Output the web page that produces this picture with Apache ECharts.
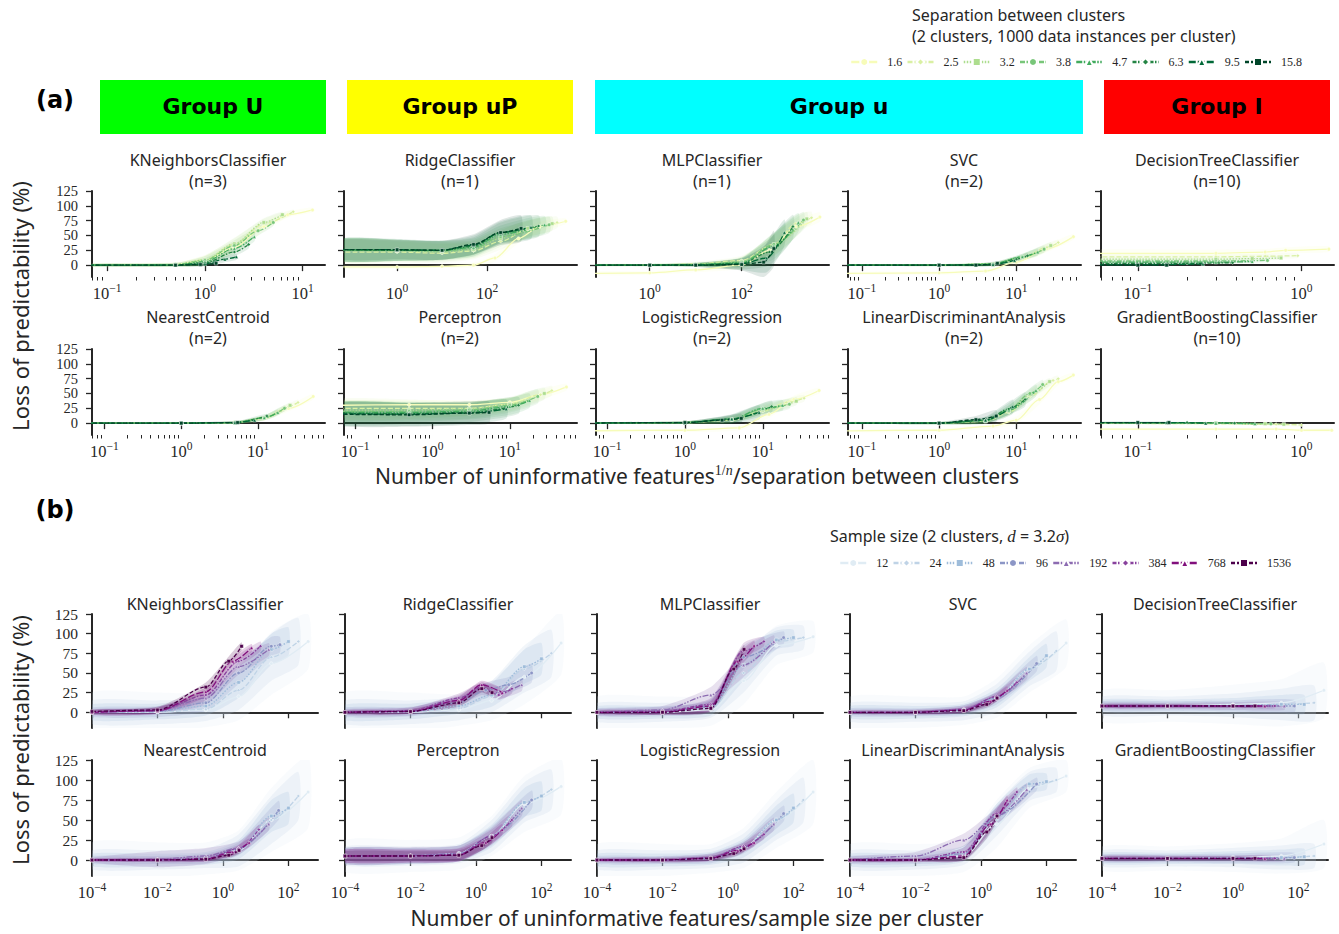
<!doctype html>
<html>
<head>
    <meta charset="utf-8">
    <title>Loss of predictability</title>
    <style type="text/css">
        body, html { width: 100%; height: 100%; margin: 0; padding: 0; background: #fff; }
        #container { width: 1339px; height: 934px; }
    </style>
    <script src="https://cdn.jsdelivr.net/npm/echarts@6/dist/echarts.min.js"></script>
</head>
<body>
<div id="container"></div>
<script type="text/javascript">
    // ---------- legend labels / colours ----------
    const sepLabels = ['1.6', '2.5', '3.2', '3.8', '4.7', '6.3', '9.5', '15.8'];
    const sepColors = ['#f7fcb9', '#d9f0a3', '#addd8e', '#78c679', '#41ab5d', '#238443', '#006837', '#004529'];
    const sizeLabels = ['12', '24', '48', '96', '192', '384', '768', '1536'];
    const sizeColors = ['#e0ecf4', '#bfd3e6', '#9ebcda', '#8c96c6', '#8c6bb1', '#88419d', '#810f7c', '#4d004b'];
    const yTicks = [0, 25, 50, 75, 100, 125];

    // ---------- (a) separation between clusters: [x, y, spread] per point ----------
    const kneighborsSep = [
        [[0.05, 0, 3], [0.5, 1, 4], [1, 8, 8], [2, 30, 10], [4, 65, 8], [7, 85, 5], [12.6, 93, 4]],
        [[0.05, 0, 2], [0.5, 1, 3], [1, 9, 8], [2, 35, 10], [4, 70, 8], [8, 90, 4]],
        [[0.05, 0, 2], [0.5, 1, 3], [1, 9, 7], [2, 36, 10], [4, 72, 7], [6.2, 85, 5]],
        [[0.05, 0, 2], [0.5, 1, 3], [1, 8, 7], [2, 33, 9], [3.5, 58, 8], [5, 72, 6]],
        [[0.05, 0, 2], [0.5, 0, 3], [1, 6, 6], [2, 28, 8], [3.2, 48, 8]],
        [[0.05, 0, 2], [0.5, 0, 2], [1, 4, 5], [2, 22, 7], [2.8, 35, 7]],
        [[0.05, 0, 1], [0.5, 0, 2], [1, 2, 4], [1.6, 10, 5], [2.1, 14, 5]],
        [[0.05, 0, 1], [0.5, 0, 1], [0.9, 1, 2], [1.3, 3, 3]]
    ];
    const ridgeSep = [
        [[0.05, -3, 3], [1, -3, 3], [10, -2, 3], [50, 0, 4], [150, 12, 6], [500, 45, 8], [1500, 65, 8], [5600, 74, 5]],
        [[0.05, 22, 18], [1, 22, 18], [10, 20, 16], [50, 24, 14], [200, 40, 14], [800, 60, 14], [3600, 72, 10]],
        [[0.05, 25, 18], [1, 24, 18], [10, 22, 16], [50, 26, 14], [200, 45, 14], [800, 62, 14], [2800, 70, 12]],
        [[0.05, 25, 18], [1, 25, 18], [10, 24, 16], [50, 28, 14], [200, 48, 14], [2400, 68, 14]],
        [[0.05, 26, 18], [1, 25, 18], [10, 25, 16], [50, 30, 15], [200, 52, 15], [1900, 68, 15]],
        [[0.05, 26, 18], [1, 25, 18], [10, 25, 16], [50, 32, 15], [200, 55, 17], [1400, 66, 18]],
        [[0.05, 26, 18], [1, 26, 18], [10, 25, 16], [50, 34, 16], [200, 55, 19], [950, 64, 20]],
        [[0.05, 26, 16], [1, 26, 16], [10, 25, 16], [50, 35, 17], [200, 55, 21], [570, 62, 22]]
    ];
    const mlpSep = [
        [[0.05, -14, 3], [1, -13, 3], [10, -8, 4], [100, 0, 6], [400, 25, 10], [1500, 65, 10], [5000, 81, 8]],
        [[0.05, 0, 2], [1, 0, 2], [10, 2, 4], [100, 8, 8], [500, 35, 15], [1500, 70, 14], [3300, 80, 10]],
        [[0.05, 0, 2], [1, 0, 2], [10, 1, 3], [100, 6, 8], [500, 35, 18], [2600, 78, 12]],
        [[0.05, 0, 1], [1, 0, 2], [10, 1, 3], [100, 5, 8], [500, 35, 20], [2200, 76, 14]],
        [[0.05, 0, 1], [1, 0, 2], [10, 1, 3], [100, 4, 8], [500, 32, 22], [1700, 72, 16]],
        [[0.05, 0, 1], [1, 0, 1], [10, 1, 3], [100, 3, 10], [400, 22, 22], [1300, 65, 20]],
        [[0.05, 0, 1], [1, 0, 1], [10, 0, 3], [100, 2, 10], [350, 12, 24], [850, 55, 22]],
        [[0.05, 0, 1], [1, 0, 1], [10, 0, 3], [100, 1, 10], [300, 5, 25], [500, 28, 30]]
    ];
    const svcSep = [
        [[0.05, -14, 2], [1, -13, 3], [4, -10, 4], [10, 5, 6], [25, 28, 6], [55, 48, 5]],
        [[0.05, 0, 1], [1, 0, 2], [5, 2, 3], [12, 12, 5], [25, 30, 6], [35, 38, 5]],
        [[0.05, 0, 1], [1, 0, 2], [5, 2, 3], [12, 13, 5], [28, 33, 6]],
        [[0.05, 0, 1], [1, 0, 2], [5, 2, 3], [12, 14, 5], [23, 27, 6]],
        [[0.05, 0, 1], [1, 0, 2], [5, 2, 3], [12, 14, 5], [19, 22, 6]],
        [[0.05, 0, 1], [1, 0, 1], [5, 1, 3], [10, 10, 4], [14, 16, 5]],
        [[0.05, 0, 1], [1, 0, 1], [5, 1, 2], [9.5, 8, 4]],
        [[0.05, 0, 1], [1, 0, 1], [3, 0, 2], [5.7, 3, 3]]
    ];
    const treeSep = [
        [[0.05, 20, 6], [0.3, 20, 6], [0.6, 22, 5], [0.8, 25, 5], [1.47, 27, 5]],
        [[0.05, 14, 4], [0.3, 14, 4], [0.6, 15, 4], [0.95, 16, 4]],
        [[0.05, 10, 3], [0.3, 10, 3], [0.5, 11, 3], [0.75, 12, 3]],
        [[0.05, 7, 3], [0.3, 7, 3], [0.62, 8, 3]],
        [[0.05, 5, 2], [0.3, 5, 2], [0.5, 6, 2]],
        [[0.05, 3, 2], [0.2, 3, 2], [0.38, 4, 2]],
        [[0.05, 1, 2], [0.15, 1, 2], [0.25, 2, 2]],
        [[0.05, 0, 1], [0.1, 0, 1], [0.15, 0, 1]]
    ];
    const centroidSep = [
        [[0.05, 0, 1], [1, 0, 1], [5, 1, 2], [12, 8, 4], [25, 25, 5], [52, 45, 5]],
        [[0.05, 0, 1], [1, 0, 1], [5, 1, 2], [12, 9, 4], [25, 28, 5], [33, 35, 5]],
        [[0.05, 0, 1], [1, 0, 1], [5, 1, 2], [12, 9, 4], [26, 30, 5]],
        [[0.05, 0, 1], [1, 0, 1], [5, 1, 2], [12, 9, 4], [22, 25, 5]],
        [[0.05, 0, 1], [1, 0, 1], [5, 1, 2], [12, 9, 4], [18, 18, 5]],
        [[0.05, 0, 1], [1, 0, 1], [5, 1, 2], [13, 12, 4]],
        [[0.05, 0, 1], [1, 0, 1], [5, 1, 2], [9, 5, 3]],
        [[0.05, 0, 1], [1, 0, 1], [5.4, 1, 2]]
    ];
    const perceptronSep = [
        [[0.05, 30, 8], [0.5, 31, 8], [3, 31, 8], [10, 35, 8], [25, 48, 8], [54, 61, 6]],
        [[0.05, 25, 15], [0.5, 25, 15], [3, 25, 12], [10, 32, 10], [25, 48, 10], [35, 55, 8]],
        [[0.05, 22, 15], [0.5, 22, 15], [3, 24, 12], [10, 32, 12], [28, 50, 10]],
        [[0.05, 20, 15], [0.5, 20, 15], [3, 22, 14], [10, 30, 12], [23, 45, 12]],
        [[0.05, 18, 16], [0.5, 18, 16], [3, 20, 14], [10, 28, 14], [18, 38, 12]],
        [[0.05, 17, 18], [0.5, 16, 18], [3, 18, 16], [13, 30, 14]],
        [[0.05, 16, 18], [0.5, 15, 20], [3, 17, 18], [9, 24, 16]],
        [[0.05, 15, 18], [0.5, 14, 20], [3, 17, 20], [5.4, 18, 18]]
    ];
    const logisticSep = [
        [[0.05, -13, 2], [1, -12, 3], [5, -8, 4], [12, 15, 6], [25, 40, 6], [53, 55, 5]],
        [[0.05, 0, 1], [1, 1, 2], [4, 5, 4], [10, 20, 6], [20, 35, 6], [34, 42, 6]],
        [[0.05, 0, 1], [1, 1, 2], [4, 6, 5], [10, 22, 7], [27, 37, 7]],
        [[0.05, 0, 1], [1, 1, 2], [4, 6, 6], [10, 24, 8], [22, 32, 8]],
        [[0.05, 0, 1], [1, 1, 2], [4, 7, 6], [10, 25, 9], [18, 30, 9]],
        [[0.05, 0, 1], [1, 1, 2], [4, 7, 7], [13, 28, 10]],
        [[0.05, 0, 1], [1, 1, 2], [4, 7, 8], [9, 18, 12]],
        [[0.05, 0, 1], [1, 1, 2], [3, 5, 6], [5.3, 8, 8]]
    ];
    const ldaSep = [
        [[0.05, -13, 2], [1, -12, 3], [5, -5, 4], [10, 5, 6], [20, 40, 8], [35, 70, 6], [55, 81, 5]],
        [[0.05, 0, 1], [1, 0, 2], [4, 3, 3], [8, 18, 6], [15, 45, 8], [30, 72, 6], [35, 75, 5]],
        [[0.05, 0, 1], [1, 0, 2], [4, 3, 3], [8, 20, 6], [15, 48, 8], [27, 70, 6]],
        [[0.05, 0, 1], [1, 0, 2], [4, 4, 4], [8, 22, 7], [15, 50, 9], [22, 65, 8]],
        [[0.05, 0, 1], [1, 0, 2], [4, 4, 4], [8, 22, 8], [18, 55, 10]],
        [[0.05, 0, 1], [1, 0, 2], [4, 5, 5], [8, 24, 10], [13, 40, 12]],
        [[0.05, 0, 1], [1, 0, 2], [4, 5, 6], [9, 28, 12]],
        [[0.05, 0, 1], [1, 0, 2], [3, 6, 6], [5.5, 12, 10]]
    ];
    const boostingSep = [
        [[0.05, -10, 2], [0.3, -10, 2], [0.7, -10, 2], [1, -12, 3], [1.53, -12, 3]],
        [[0.05, 0, 2], [0.3, -1, 2], [0.7, -2, 2], [1, -3, 3]],
        [[0.05, 0, 1], [0.3, 0, 2], [0.6, -1, 2], [0.78, -2, 2]],
        [[0.05, 1, 1], [0.3, 0, 1], [0.65, -1, 2]],
        [[0.05, 1, 1], [0.3, 0, 1], [0.52, -1, 2]],
        [[0.05, 1, 1], [0.2, 1, 1], [0.39, 0, 1]],
        [[0.05, 1, 1], [0.15, 1, 1], [0.26, 0, 1]],
        [[0.05, 1, 1], [0.1, 1, 1], [0.155, 1, 1]]
    ];

    // ---------- (b) sample size: [x, y, spread] per point ----------
    const kneighborsSize = [
        [[1e-4, 0, 25], [0.01, 0, 25], [0.3, 3, 22], [3, 20, 30], [30, 62, 40], [400, 90, 35]],
        [[1e-4, 0, 15], [0.01, 0, 15], [0.3, 4, 15], [3, 28, 25], [30, 70, 30], [200, 90, 30]],
        [[1e-4, 0, 10], [0.01, 1, 10], [0.3, 8, 12], [3, 38, 20], [30, 80, 20], [100, 90, 18]],
        [[1e-4, 0, 6], [0.01, 1, 7], [0.3, 12, 10], [3, 50, 14], [30, 84, 12], [55, 86, 10]],
        [[1e-4, 0, 4], [0.01, 2, 5], [0.3, 18, 8], [3, 58, 10], [25, 80, 8]],
        [[1e-4, 0, 3], [0.01, 2, 4], [0.3, 22, 7], [3, 65, 8], [14, 84, 6]],
        [[1e-4, 0, 3], [0.01, 2, 4], [0.3, 26, 6], [2, 65, 6], [7.5, 82, 5]],
        [[1e-4, 1, 2], [0.01, 3, 4], [0.3, 32, 6], [1.5, 65, 6], [3.7, 84, 5]]
    ];
    const ridgeSize = [
        [[1e-4, 0, 25], [0.01, 0, 25], [0.3, 3, 20], [3, 15, 25], [30, 45, 35], [400, 88, 40]],
        [[1e-4, 0, 15], [0.01, 0, 15], [0.3, 5, 15], [3, 20, 20], [30, 55, 30], [200, 75, 30]],
        [[1e-4, 0, 10], [0.01, 1, 10], [0.3, 8, 10], [3, 22, 15], [30, 58, 22], [100, 68, 20]],
        [[1e-4, 0, 6], [0.01, 1, 6], [0.3, 12, 8], [2, 28, 10], [10, 35, 10], [50, 50, 12]],
        [[1e-4, 0, 4], [0.01, 1, 5], [0.3, 15, 7], [1.5, 30, 8], [5, 25, 8], [25, 35, 8]],
        [[1e-4, 0, 3], [0.01, 2, 4], [0.3, 18, 6], [1.5, 32, 6], [5, 22, 6], [12.5, 30, 6]],
        [[1e-4, 0, 2], [0.01, 1, 3], [0.3, 15, 5], [1.5, 35, 5], [6.3, 25, 5]],
        [[1e-4, 0, 2], [0.01, 1, 3], [0.3, 12, 5], [1.5, 30, 5], [3.1, 25, 5]]
    ];
    const mlpSize = [
        [[1e-4, 0, 20], [0.01, 0, 20], [0.3, 3, 20], [3, 40, 30], [30, 85, 25], [400, 96, 20]],
        [[1e-4, 0, 12], [0.01, 0, 12], [0.3, 5, 12], [3, 50, 25], [30, 90, 18], [200, 95, 15]],
        [[1e-4, 0, 8], [0.01, 0, 8], [0.3, 6, 10], [3, 60, 20], [30, 92, 12], [100, 95, 10]],
        [[1e-4, 0, 5], [0.01, 1, 6], [0.3, 8, 8], [3, 70, 15], [50, 95, 8]],
        [[1e-4, 0, 4], [0.01, 3, 5], [0.3, 22, 10], [3, 60, 15], [25, 90, 8]],
        [[1e-4, 0, 3], [0.01, 1, 4], [0.3, 10, 8], [3, 78, 10], [12.5, 90, 6]],
        [[1e-4, 0, 2], [0.01, 0, 3], [0.3, 8, 6], [2, 65, 10], [6.3, 85, 6]],
        [[1e-4, 0, 2], [0.01, 0, 3], [0.3, 5, 5], [1.5, 55, 10], [3.1, 80, 6]]
    ];
    const svcSize = [
        [[1e-4, 0, 20], [0.01, 0, 20], [0.3, 2, 18], [3, 18, 25], [30, 55, 30], [400, 88, 30]],
        [[1e-4, 0, 12], [0.01, 0, 12], [0.3, 2, 12], [3, 18, 18], [30, 55, 22], [200, 78, 25]],
        [[1e-4, 0, 8], [0.01, 0, 8], [0.3, 3, 8], [3, 18, 12], [30, 55, 15], [100, 72, 15]],
        [[1e-4, 0, 5], [0.01, 0, 5], [0.3, 3, 6], [3, 18, 8], [50, 62, 10]],
        [[1e-4, 0, 3], [0.01, 0, 4], [0.3, 4, 5], [3, 20, 6], [25, 50, 8]],
        [[1e-4, 0, 2], [0.01, 0, 3], [0.3, 3, 4], [3, 20, 5], [12.5, 38, 6]],
        [[1e-4, 0, 2], [0.01, 0, 2], [0.3, 3, 3], [2, 14, 4], [6.3, 28, 5]],
        [[1e-4, 0, 1], [0.01, 0, 2], [0.3, 2, 3], [1.5, 10, 4], [3.1, 18, 4]]
    ];
    const treeSize = [
        [[1e-4, 8, 20], [0.01, 8, 20], [1, 10, 25], [30, 12, 30], [600, 28, 35]],
        [[1e-4, 8, 12], [0.01, 8, 12], [1, 9, 15], [30, 10, 20], [300, 12, 22]],
        [[1e-4, 8, 8], [0.01, 8, 8], [1, 8, 10], [30, 10, 12], [150, 10, 12]],
        [[1e-4, 8, 6], [0.01, 8, 6], [1, 8, 7], [75, 8, 8]],
        [[1e-4, 8, 4], [0.01, 8, 4], [1, 8, 5], [37, 8, 5]],
        [[1e-4, 8, 3], [0.01, 8, 3], [1, 8, 3], [19, 8, 3]],
        [[1e-4, 8, 2], [0.01, 8, 2], [1, 8, 2], [9.4, 8, 2]],
        [[1e-4, 8, 2], [0.01, 8, 2], [1, 8, 2], [4.7, 8, 2]]
    ];
    const centroidSize = [
        [[1e-4, 0, 22], [0.01, 0, 22], [0.3, 2, 20], [3, 12, 25], [30, 50, 40], [400, 85, 45]],
        [[1e-4, 0, 12], [0.01, 0, 12], [0.3, 2, 12], [3, 12, 20], [30, 50, 30], [200, 80, 30]],
        [[1e-4, 0, 8], [0.01, 0, 8], [0.3, 2, 8], [3, 13, 12], [30, 55, 20], [100, 65, 20]],
        [[1e-4, 0, 5], [0.01, 0, 5], [0.3, 2, 6], [3, 14, 8], [50, 62, 12]],
        [[1e-4, 0, 3], [0.01, 1, 10], [0.3, 5, 10], [3, 15, 8], [25, 45, 8]],
        [[1e-4, 0, 2], [0.01, 0, 3], [0.3, 2, 4], [3, 14, 5], [12.5, 38, 6]],
        [[1e-4, 0, 2], [0.01, 0, 2], [0.3, 1, 3], [2, 10, 4], [6.3, 22, 5]],
        [[1e-4, 0, 1], [0.01, 0, 2], [0.3, 1, 2], [1.5, 6, 3], [3.1, 12, 4]]
    ];
    const perceptronSize = [
        [[1e-4, 5, 20], [0.01, 5, 20], [0.3, 8, 20], [3, 30, 25], [30, 70, 35], [400, 92, 35]],
        [[1e-4, 5, 12], [0.01, 5, 12], [0.3, 8, 12], [3, 30, 20], [30, 72, 25], [200, 88, 25]],
        [[1e-4, 5, 10], [0.01, 5, 10], [0.3, 8, 10], [3, 30, 14], [30, 72, 18], [100, 80, 18]],
        [[1e-4, 5, 10], [0.01, 5, 10], [0.3, 8, 10], [3, 30, 12], [50, 75, 12]],
        [[1e-4, 5, 10], [0.01, 6, 10], [0.3, 8, 10], [3, 30, 10], [25, 65, 10]],
        [[1e-4, 5, 8], [0.01, 5, 8], [0.3, 7, 8], [3, 30, 8], [12.5, 50, 8]],
        [[1e-4, 5, 8], [0.01, 5, 8], [0.3, 6, 8], [2, 22, 7], [6.3, 38, 7]],
        [[1e-4, 5, 6], [0.01, 5, 6], [0.3, 6, 6], [1.5, 18, 6], [3.1, 28, 6]]
    ];
    const logisticSize = [
        [[1e-4, 0, 20], [0.01, 0, 20], [0.3, 2, 18], [3, 15, 25], [30, 50, 35], [400, 85, 40]],
        [[1e-4, 0, 12], [0.01, 0, 12], [0.3, 2, 12], [3, 15, 18], [30, 50, 25], [200, 75, 28]],
        [[1e-4, 0, 8], [0.01, 0, 8], [0.3, 2, 8], [3, 15, 12], [30, 50, 18], [100, 65, 18]],
        [[1e-4, 0, 5], [0.01, 0, 5], [0.3, 2, 6], [3, 16, 8], [50, 58, 10]],
        [[1e-4, 0, 3], [0.01, 0, 4], [0.3, 3, 5], [3, 16, 6], [25, 45, 8]],
        [[1e-4, 0, 2], [0.01, 0, 3], [0.3, 3, 4], [3, 17, 5], [12.5, 32, 6]],
        [[1e-4, 0, 2], [0.01, 0, 2], [0.3, 2, 3], [2, 12, 4], [6.3, 22, 5]],
        [[1e-4, 0, 1], [0.01, 0, 2], [0.3, 2, 3], [1.5, 8, 4], [3.1, 14, 4]]
    ];
    const ldaSize = [
        [[1e-4, 0, 20], [0.01, 0, 20], [0.3, 5, 20], [3, 45, 30], [30, 90, 25], [400, 105, 20]],
        [[1e-4, 0, 12], [0.01, 0, 12], [0.3, 6, 12], [3, 50, 20], [30, 92, 18], [200, 100, 15]],
        [[1e-4, 0, 8], [0.01, 0, 8], [0.3, 8, 10], [3, 55, 15], [30, 95, 12], [100, 98, 10]],
        [[1e-4, 0, 5], [0.01, 0, 5], [0.3, 8, 8], [3, 55, 12], [50, 95, 8]],
        [[1e-4, 0, 4], [0.01, 5, 5], [0.3, 25, 8], [3, 55, 10], [25, 88, 8]],
        [[1e-4, 0, 2], [0.01, 0, 3], [0.3, 10, 6], [3, 58, 8], [12.5, 85, 6]],
        [[1e-4, 0, 2], [0.01, 0, 2], [0.3, 5, 5], [2, 45, 8], [6.3, 75, 6]],
        [[1e-4, 0, 2], [0.01, 0, 2], [0.3, 3, 4], [1.5, 35, 8], [3.1, 55, 6]]
    ];
    const boostingSize = [
        [[1e-4, 2, 15], [0.01, 2, 15], [1, 3, 18], [30, 5, 22], [600, 20, 30]],
        [[1e-4, 2, 10], [0.01, 2, 10], [1, 3, 12], [30, 3, 15], [300, 5, 15]],
        [[1e-4, 2, 7], [0.01, 2, 7], [1, 3, 8], [30, 3, 10], [150, 4, 10]],
        [[1e-4, 2, 5], [0.01, 2, 5], [1, 2, 6], [75, 3, 6]],
        [[1e-4, 2, 4], [0.01, 2, 4], [1, 2, 4], [37, 2, 4]],
        [[1e-4, 2, 3], [0.01, 2, 3], [1, 2, 3], [19, 2, 3]],
        [[1e-4, 2, 2], [0.01, 2, 2], [1, 2, 2], [9.4, 2, 2]],
        [[1e-4, 2, 2], [0.01, 2, 2], [1, 2, 2], [4.7, 2, 2]]
    ];

    // ---------- panels ----------
    const panelsA = [
        {name: 'KNeighborsClassifier', n: 3, data: kneighborsSep, xr: [0.07, 16.9], xt: [0.1, 1, 10], minor: true},
        {name: 'RidgeClassifier', n: 1, data: ridgeSep, xr: [0.066, 10000], xt: [1, 100], minor: false},
        {name: 'MLPClassifier', n: 1, data: mlpSep, xr: [0.068, 7900], xt: [1, 100], minor: false},
        {name: 'SVC', n: 2, data: svcSep, xr: [0.066, 69], xt: [0.1, 1, 10], minor: true},
        {name: 'DecisionTreeClassifier', n: 10, data: treeSep, xr: [0.0596, 1.58], xt: [0.1, 1], minor: true},
        {name: 'NearestCentroid', n: 2, data: centroidSep, xr: [0.069, 74], xt: [0.1, 1, 10], minor: true},
        {name: 'Perceptron', n: 2, data: perceptronSep, xr: [0.072, 74], xt: [0.1, 1, 10], minor: true},
        {name: 'LogisticRegression', n: 2, data: logisticSep, xr: [0.072, 71], xt: [0.1, 1, 10], minor: true},
        {name: 'LinearDiscriminantAnalysis', n: 2, data: ldaSep, xr: [0.066, 69], xt: [0.1, 1, 10], minor: true},
        {name: 'GradientBoostingClassifier', n: 10, data: boostingSep, xr: [0.0596, 1.58], xt: [0.1, 1], minor: true}
    ];
    const panelsB = [
        {name: 'KNeighborsClassifier', data: kneighborsSize},
        {name: 'RidgeClassifier', data: ridgeSize},
        {name: 'MLPClassifier', data: mlpSize},
        {name: 'SVC', data: svcSize},
        {name: 'DecisionTreeClassifier', data: treeSize},
        {name: 'NearestCentroid', data: centroidSize},
        {name: 'Perceptron', data: perceptronSize},
        {name: 'LogisticRegression', data: logisticSize},
        {name: 'LinearDiscriminantAnalysis', data: ldaSize},
        {name: 'GradientBoostingClassifier', data: boostingSize}
    ];
    const rangeB = [1e-4, 800];
    const ticksB = [1e-4, 1e-2, 1, 100];

    // ---------- styling ----------
    const INK = '#262626';
    const SANS = '"Noto Sans", "DejaVu Sans", sans-serif';
    const SERIF = '"Liberation Serif", "DejaVu Serif", serif';
    const BOLD = '"DejaVu Sans", sans-serif';
    const dashes = ['solid', [5, 2], [1.5, 1.5], [5, 1.5, 1.5, 1.5], [6, 1.5, 1.5, 1.5, 1.5, 1.5], [4, 1.5, 1.5, 1.5], [7, 2], [4, 2]];
    const symbols = ['circle', 'diamond', 'rect', 'circle', 'triangle', 'diamond', 'triangle', 'rect'];

    const powRich = {
        s: {fontFamily: SERIF, fontSize: 11.5, color: INK, padding: [0, 0, 10, 0]}
    };
    function powLabel(v) {
        const e = Math.round(Math.log10(v));
        return '10{s|' + (e < 0 ? '\u2212' + (-e) : e) + '}';
    }
    function minorTicks(lo, hi) {
        const out = [];
        for (let e = Math.floor(Math.log10(lo)); e <= Math.ceil(Math.log10(hi)); e++) {
            for (let k = 2; k <= 9; k++) {
                const v = k * Math.pow(10, e);
                if (v >= lo && v <= hi) out.push(v);
            }
        }
        return out;
    }

    const grids = [], xAxes = [], yAxes = [], series = [], graphics = [];

    function addPanel(p, xr, xt, minor, box, showX, showY, labels, colors, bandAlpha, yFont) {
        const gi = grids.length;
        grids.push({left: box[0], top: box[1], width: box[2], height: box[3], outerBoundsMode: 'none'});
        const xi = xAxes.length;
        xAxes.push({
            type: 'log', logBase: 10, gridIndex: gi, min: xr[0], max: xr[1], position: 'bottom',
            axisLine: {show: true, lineStyle: {color: INK, width: 2}},
            axisTick: {show: true, customValues: xt, length: 6, lineStyle: {color: INK, width: 1.3}},
            axisLabel: {show: showX, customValues: xt, formatter: powLabel, rich: powRich, hideOverlap: false,
                showMinLabel: true, showMaxLabel: true,
                fontFamily: SERIF, fontSize: 16.5, color: INK, margin: 5},
            splitLine: {show: false}, minorTick: {show: false}
        });
        if (minor) {
            xAxes.push({
                type: 'log', logBase: 10, gridIndex: gi, min: xr[0], max: xr[1], position: 'bottom',
                axisLine: {show: false},
                axisTick: {show: true, customValues: minorTicks(xr[0], xr[1]), length: 3.5, lineStyle: {color: INK, width: 1}},
                axisLabel: {show: false}, splitLine: {show: false}
            });
        }
        yAxes.push({
            type: 'value', gridIndex: gi, min: -20, max: 125,
            axisLine: {show: true, lineStyle: {color: INK, width: 2}},
            axisTick: {show: true, customValues: yTicks, length: 6, lineStyle: {color: INK, width: 1.3}},
            axisLabel: {show: showY, customValues: yTicks, hideOverlap: false, showMinLabel: true, showMaxLabel: true,
                fontFamily: SERIF, fontSize: yFont, lineHeight: 12, color: INK, margin: 14},
            splitLine: {show: false}
        });
        p.data.forEach(function (pts, k) {
            series.push({
                type: 'custom', coordinateSystem: 'cartesian2d', xAxisIndex: xi, yAxisIndex: gi,
                data: [[pts[0][0], pts[0][1]]], silent: true, clip: true, z: 1,
                renderItem: function (params, api) {
                    const up = pts.map(function (d) { return api.coord([d[0], d[1] + d[2]]); });
                    const lo = pts.map(function (d) { return api.coord([d[0], d[1] - d[2]]); }).reverse();
                    return {
                        type: 'polygon',
                        shape: {points: up.concat(lo), smooth: 0.2},
                        style: {fill: colors[k], opacity: bandAlpha}
                    };
                }
            });
            series.push({
                type: 'line', name: labels[k], xAxisIndex: xi, yAxisIndex: gi,
                data: pts.map(function (d) { return [d[0], d[1]]; }),
                smooth: 0.3, smoothMonotone: 'x', clip: true, z: 3,
                symbol: symbols[k], symbolSize: 3.5, showSymbol: true,
                lineStyle: {color: colors[k], width: 1.3, type: dashes[k]},
                itemStyle: {color: colors[k], borderColor: '#fff', borderWidth: 0.4}
            });
        });
    }

    function addText(x, y, text, style, rotation) {
        const el = {type: 'text', x: x, y: y, silent: true, z: 10,
            style: Object.assign({text: text, fill: INK, fontFamily: SANS, fontSize: 16, align: 'center', verticalAlign: 'middle'}, style || {})};
        if (rotation) el.rotation = rotation;
        graphics.push(el);
    }

    // section (a)
    const colA = [92, 344, 596, 848, 1101];
    const rowA = [[191, 86], [349, 86]];
    panelsA.forEach(function (p, i) {
        const r = Math.floor(i / 5), c = i % 5;
        const box = [colA[c], rowA[r][0], 233, rowA[r][1]];
        addPanel(p, p.xr, p.xt, p.minor, box, true, c === 0, sepLabels, sepColors, 0.12, 14.5);
        addText(colA[c] + 116, r === 0 ? 160 : 317, p.name);
        addText(colA[c] + 116, r === 0 ? 181 : 338, '(n=' + p.n + ')');
    });

    // section (b)
    const colB = [92, 345, 597, 850, 1102];
    const rowB = [[614, 114], [760, 116]];
    panelsB.forEach(function (p, i) {
        const r = Math.floor(i / 5), c = i % 5;
        const box = [colB[c], rowB[r][0], 226, rowB[r][1]];
        addPanel(p, rangeB, ticksB, false, box, r === 1, c === 0, sizeLabels, sizeColors, 0.2, 15.5);
        addText(colB[c] + 113, r === 0 ? 604 : 750, p.name);
    });

    // group headers
    const groupBoxes = [['Group U', '#00ff00', 100, 326], ['Group uP', '#ffff00', 347, 573],
        ['Group u', '#00ffff', 595, 1083], ['Group I', '#ff0000', 1104, 1330]];
    groupBoxes.forEach(function (g) {
        graphics.push({type: 'rect', silent: true, z: 5, shape: {x: g[2], y: 80, width: g[3] - g[2], height: 54}, style: {fill: g[1]}});
        addText((g[2] + g[3]) / 2, 106, g[0], {fontFamily: BOLD, fontWeight: 'bold', fontSize: 22, fill: '#000'});
    });
    addText(55, 100, '(a)', {fontFamily: BOLD, fontWeight: 'bold', fontSize: 24, fill: '#000'});
    addText(55, 510, '(b)', {fontFamily: BOLD, fontWeight: 'bold', fontSize: 24, fill: '#000'});

    // axis titles
    addText(20, 306, 'Loss of predictability (%)', {fontSize: 22}, Math.PI / 2);
    addText(20, 740, 'Loss of predictability (%)', {fontSize: 22}, Math.PI / 2);
    addText(697, 476, 'Number of uninformative features{s|1/}{i|n}/separation between clusters', {
        fontSize: 21,
        rich: {
            s: {fontFamily: SERIF, fontSize: 14, fill: INK, padding: [0, 0, 12, 0]},
            i: {fontFamily: SERIF, fontStyle: 'italic', fontSize: 14, fill: INK, padding: [0, 0, 12, 0]}
        }
    });
    addText(697, 918, 'Number of uninformative features/sample size per cluster', {fontSize: 21});

    // legend titles
    addText(912, 15, 'Separation between clusters', {fontSize: 16, align: 'left'});
    addText(912, 36, '(2 clusters, 1000 data instances per cluster)', {fontSize: 16, align: 'left'});
    addText(830, 536, 'Sample size (2 clusters, {m|d} = 3.2{m|\u03c3})', {
        fontSize: 16, align: 'left',
        rich: {m: {fontFamily: SERIF, fontStyle: 'italic', fontSize: 17, fill: INK}}
    });

    const legendCommon = {
        orient: 'horizontal', itemWidth: 26, itemHeight: 10, selectedMode: false,
        lineStyle: {width: 2.5},
        textStyle: {fontFamily: SERIF, fontSize: 12, color: INK, padding: [0, 0, 0, 5]}
    };

    const option = {
        animation: false,
        backgroundColor: '#ffffff',
        grid: grids,
        xAxis: xAxes,
        yAxis: yAxes,
        legend: [
            Object.assign({data: sepLabels, left: 845, top: 51, itemGap: 4}, legendCommon),
            Object.assign({data: sizeLabels, left: 834, top: 552, itemGap: 4}, legendCommon)
        ],
        graphic: graphics,
        series: series
    };

    const dom = document.getElementById('container');
    const myChart = echarts.init(dom, null, {renderer: 'svg', width: 1339, height: 934});
    myChart.setOption(option);
    window.addEventListener('resize', myChart.resize);
</script>
</body>
</html>
